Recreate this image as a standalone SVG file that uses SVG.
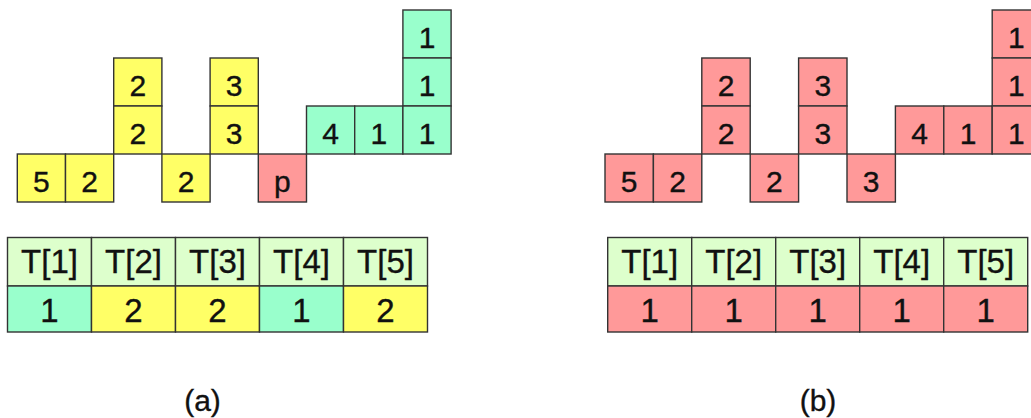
<svg xmlns="http://www.w3.org/2000/svg" width="1031" height="418" viewBox="0 0 1031 418">
<style>
rect{stroke:#333;stroke-width:1.4}
.y{fill:#ffff66}.g{fill:#99ffcc}.r{fill:#ff9999}.h{fill:#ddffcc}
text{font-family:"Liberation Sans",Arial,sans-serif;fill:#111;stroke:#111;stroke-width:0.35;text-anchor:middle}
.c{font-size:30px}.t{font-size:33px}.l{font-size:30px}
</style>
<rect x="0" y="0" width="1031" height="418" fill="#fff" style="stroke:none"/>
<g id="grid-a">
<g id="a-c0"><rect class="y" x="17.3" y="154" width="48.2" height="48"/><text class="c" x="41.4" y="192">5</text></g>
<g id="a-c1"><rect class="y" x="65.5" y="154" width="48.2" height="48"/><text class="c" x="89.6" y="192">2</text></g>
<g id="a-c2"><rect class="y" x="113.7" y="58" width="48.2" height="48"/><text class="c" x="137.8" y="96">2</text><rect class="y" x="113.7" y="106" width="48.2" height="48"/><text class="c" x="137.8" y="144">2</text></g>
<g id="a-c3"><rect class="y" x="161.9" y="154" width="48.2" height="48"/><text class="c" x="186" y="192">2</text></g>
<g id="a-c4"><rect class="y" x="210.1" y="58" width="48.2" height="48"/><text class="c" x="234.2" y="96">3</text><rect class="y" x="210.1" y="106" width="48.2" height="48"/><text class="c" x="234.2" y="144">3</text></g>
<g id="a-c5"><rect class="r" x="258.3" y="154" width="48.2" height="48"/><text class="c" x="282.4" y="192">p</text></g>
<g id="a-c6"><rect class="g" x="306.5" y="106" width="48.2" height="48"/><text class="c" x="330.6" y="144">4</text></g>
<g id="a-c7"><rect class="g" x="354.7" y="106" width="48.2" height="48"/><text class="c" x="378.8" y="144">1</text></g>
<g id="a-c8"><rect class="g" x="402.9" y="10" width="48.2" height="48"/><text class="c" x="427" y="48">1</text><rect class="g" x="402.9" y="58" width="48.2" height="48"/><text class="c" x="427" y="96">1</text><rect class="g" x="402.9" y="106" width="48.2" height="48"/><text class="c" x="427" y="144">1</text></g>
</g>
<g id="grid-b">
<g id="b-c0"><rect class="r" x="605" y="154" width="48.4" height="48"/><text class="c" x="629.2" y="192">5</text></g>
<g id="b-c1"><rect class="r" x="653.4" y="154" width="48.4" height="48"/><text class="c" x="677.6" y="192">2</text></g>
<g id="b-c2"><rect class="r" x="701.8" y="58" width="48.4" height="48"/><text class="c" x="726" y="96">2</text><rect class="r" x="701.8" y="106" width="48.4" height="48"/><text class="c" x="726" y="144">2</text></g>
<g id="b-c3"><rect class="r" x="750.2" y="154" width="48.4" height="48"/><text class="c" x="774.4" y="192">2</text></g>
<g id="b-c4"><rect class="r" x="798.6" y="58" width="48.4" height="48"/><text class="c" x="822.8" y="96">3</text><rect class="r" x="798.6" y="106" width="48.4" height="48"/><text class="c" x="822.8" y="144">3</text></g>
<g id="b-c5"><rect class="r" x="847" y="154" width="48.4" height="48"/><text class="c" x="871.2" y="192">3</text></g>
<g id="b-c6"><rect class="r" x="895.4" y="106" width="48.4" height="48"/><text class="c" x="919.6" y="144">4</text></g>
<g id="b-c7"><rect class="r" x="943.8" y="106" width="48.4" height="48"/><text class="c" x="968" y="144">1</text></g>
<g id="b-c8"><rect class="r" x="992.2" y="10" width="48.4" height="48"/><text class="c" x="1016.4" y="48">1</text><rect class="r" x="992.2" y="58" width="48.4" height="48"/><text class="c" x="1016.4" y="96">1</text><rect class="r" x="992.2" y="106" width="48.4" height="48"/><text class="c" x="1016.4" y="144">1</text></g>
</g>
<g id="table-a">
<g id="ta-1"><rect class="h" x="7.5" y="237.5" width="84" height="48.5"/><text class="t" x="49.5" y="273">T[1]</text><rect class="g" x="7.5" y="286" width="84" height="46"/><text class="t" x="49.5" y="322">1</text></g>
<g id="ta-2"><rect class="h" x="91.5" y="237.5" width="84" height="48.5"/><text class="t" x="133.5" y="273">T[2]</text><rect class="y" x="91.5" y="286" width="84" height="46"/><text class="t" x="133.5" y="322">2</text></g>
<g id="ta-3"><rect class="h" x="175.5" y="237.5" width="84" height="48.5"/><text class="t" x="217.5" y="273">T[3]</text><rect class="y" x="175.5" y="286" width="84" height="46"/><text class="t" x="217.5" y="322">2</text></g>
<g id="ta-4"><rect class="h" x="259.5" y="237.5" width="84" height="48.5"/><text class="t" x="301.5" y="273">T[4]</text><rect class="g" x="259.5" y="286" width="84" height="46"/><text class="t" x="301.5" y="322">1</text></g>
<g id="ta-5"><rect class="h" x="343.5" y="237.5" width="84" height="48.5"/><text class="t" x="385.5" y="273">T[5]</text><rect class="y" x="343.5" y="286" width="84" height="46"/><text class="t" x="385.5" y="322">2</text></g>
</g>
<g id="table-b">
<g id="tb-1"><rect class="h" x="607.7" y="237.5" width="84" height="48.5"/><text class="t" x="649.7" y="273">T[1]</text><rect class="r" x="607.7" y="286" width="84" height="46"/><text class="t" x="649.7" y="322">1</text></g>
<g id="tb-2"><rect class="h" x="691.7" y="237.5" width="84" height="48.5"/><text class="t" x="733.7" y="273">T[2]</text><rect class="r" x="691.7" y="286" width="84" height="46"/><text class="t" x="733.7" y="322">1</text></g>
<g id="tb-3"><rect class="h" x="775.7" y="237.5" width="84" height="48.5"/><text class="t" x="817.7" y="273">T[3]</text><rect class="r" x="775.7" y="286" width="84" height="46"/><text class="t" x="817.7" y="322">1</text></g>
<g id="tb-4"><rect class="h" x="859.7" y="237.5" width="84" height="48.5"/><text class="t" x="901.7" y="273">T[4]</text><rect class="r" x="859.7" y="286" width="84" height="46"/><text class="t" x="901.7" y="322">1</text></g>
<g id="tb-5"><rect class="h" x="943.7" y="237.5" width="84" height="48.5"/><text class="t" x="985.7" y="273">T[5]</text><rect class="r" x="943.7" y="286" width="84" height="46"/><text class="t" x="985.7" y="322">1</text></g>
</g>
<g id="connectors"/>
<g id="labels">
<text class="l" x="202.5" y="411">(a)</text>
<text class="l" x="818" y="411">(b)</text>
</g>
</svg>
